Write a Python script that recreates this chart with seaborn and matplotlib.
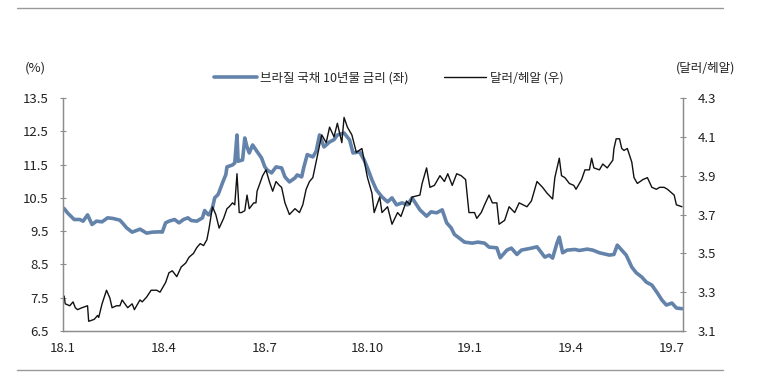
import pandas as pd
import seaborn as sns
import matplotlib.pyplot as plt
import matplotlib.lines as mlines

# 브라질 국채 10년물 금리 (%), 좌축
bond_dates = [
    "2018-01-02", "2018-01-05", "2018-01-11", "2018-01-16", "2018-01-19", "2018-01-23",
    "2018-01-27", "2018-01-31", "2018-02-05", "2018-02-10", "2018-02-15", "2018-02-21",
    "2018-02-24", "2018-02-27", "2018-03-04", "2018-03-11", "2018-03-17", "2018-03-22",
    "2018-03-29", "2018-03-31", "2018-04-03", "2018-04-06", "2018-04-11", "2018-04-15",
    "2018-04-19", "2018-04-23", "2018-04-26", "2018-05-01", "2018-05-06", "2018-05-08",
    "2018-05-11", "2018-05-12", "2018-05-15", "2018-05-17", "2018-05-20", "2018-05-21",
    "2018-05-24", "2018-05-27", "2018-05-28", "2018-06-02", "2018-06-04", "2018-06-06",
    "2018-06-07", "2018-06-11", "2018-06-13", "2018-06-15", "2018-06-17", "2018-06-20",
    "2018-06-23", "2018-06-28", "2018-07-01", "2018-07-03", "2018-07-07", "2018-07-11",
    "2018-07-16", "2018-07-19", "2018-07-23", "2018-07-28", "2018-07-30", "2018-08-03",
    "2018-08-05", "2018-08-08", "2018-08-13", "2018-08-16", "2018-08-19", "2018-08-23",
    "2018-08-28", "2018-09-01", "2018-09-04", "2018-09-10", "2018-09-15", "2018-09-18",
    "2018-09-24", "2018-09-28", "2018-10-01", "2018-10-05", "2018-10-09", "2018-10-14",
    "2018-10-19", "2018-10-23", "2018-10-27", "2018-11-01", "2018-11-06", "2018-11-10",
    "2018-11-17", "2018-11-23", "2018-11-27", "2018-12-02", "2018-12-07", "2018-12-11",
    "2018-12-15", "2018-12-18", "2018-12-22", "2018-12-27", "2019-01-03", "2019-01-08",
    "2019-01-14", "2019-01-18", "2019-01-25", "2019-01-28", "2019-02-03", "2019-02-07",
    "2019-02-12", "2019-02-16", "2019-02-25", "2019-03-02", "2019-03-09", "2019-03-13",
    "2019-03-16", "2019-03-20", "2019-03-22", "2019-03-25", "2019-03-29", "2019-04-05",
    "2019-04-09", "2019-04-16", "2019-04-21", "2019-04-27", "2019-05-06", "2019-05-10",
    "2019-05-13", "2019-05-17", "2019-05-21", "2019-05-26", "2019-05-30", "2019-06-04",
    "2019-06-08", "2019-06-13", "2019-06-18", "2019-06-22", "2019-06-26", "2019-07-01",
    "2019-07-05", "2019-07-10",
]
bond_values = [
    10.18, 10.05, 9.85, 9.85, 9.80, 9.99,
    9.70, 9.80, 9.78, 9.90, 9.88, 9.83,
    9.72, 9.60, 9.47, 9.56, 9.44, 9.47,
    9.48, 9.47, 9.75, 9.80, 9.85, 9.75,
    9.85, 9.90, 9.82, 9.80, 9.90, 10.12,
    10.00, 9.99, 10.20, 10.50, 10.60, 10.68,
    10.95, 11.20, 11.43, 11.49, 11.55, 12.39,
    11.60, 11.64, 12.30, 12.03, 11.85, 12.09,
    11.94, 11.70, 11.43, 11.34, 11.25, 11.43,
    11.40, 11.13, 10.98, 11.10, 11.19, 11.13,
    11.43, 11.80, 11.73, 11.90, 12.39, 12.03,
    12.18, 12.25, 12.39, 12.45, 12.24, 11.85,
    11.88, 11.64, 11.40, 11.04, 10.74, 10.53,
    10.38, 10.50, 10.29, 10.35, 10.29, 10.50,
    10.14, 9.95, 10.08, 10.05, 10.14, 9.75,
    9.60, 9.40, 9.30, 9.17, 9.14, 9.17,
    9.14, 9.02, 9.00, 8.70, 8.93, 8.99,
    8.80, 8.93, 8.99, 9.03, 8.72, 8.78,
    8.69, 9.15, 9.32, 8.85, 8.93, 8.95,
    8.92, 8.96, 8.93, 8.85, 8.78, 8.80,
    9.08, 8.93, 8.78, 8.42, 8.25, 8.12,
    7.97, 7.88, 7.64, 7.43, 7.28, 7.34,
    7.19, 7.17,
]

# 달러/헤알 환율, 우축
fx_dates = [
    "2018-01-02", "2018-01-03", "2018-01-07", "2018-01-10", "2018-01-12", "2018-01-14",
    "2018-01-18", "2018-01-23", "2018-01-24", "2018-01-29", "2018-02-01", "2018-02-02",
    "2018-02-05", "2018-02-09", "2018-02-12", "2018-02-14", "2018-02-18", "2018-02-21",
    "2018-02-23", "2018-02-28", "2018-03-04", "2018-03-06", "2018-03-11", "2018-03-13",
    "2018-03-17", "2018-03-21", "2018-03-26", "2018-03-29", "2018-03-31", "2018-04-03",
    "2018-04-06", "2018-04-09", "2018-04-13", "2018-04-17", "2018-04-21", "2018-04-24",
    "2018-04-28", "2018-05-01", "2018-05-04", "2018-05-07", "2018-05-10", "2018-05-12",
    "2018-05-15", "2018-05-18", "2018-05-21", "2018-05-25", "2018-05-28", "2018-05-30",
    "2018-06-02", "2018-06-04", "2018-06-06", "2018-06-08", "2018-06-10", "2018-06-13",
    "2018-06-15", "2018-06-17", "2018-06-21", "2018-06-23", "2018-06-24", "2018-06-29",
    "2018-07-02", "2018-07-05", "2018-07-08", "2018-07-11", "2018-07-14", "2018-07-16",
    "2018-07-19", "2018-07-23", "2018-07-28", "2018-08-01", "2018-08-04", "2018-08-07",
    "2018-08-10", "2018-08-13", "2018-08-17", "2018-08-21", "2018-08-25", "2018-08-28",
    "2018-09-01", "2018-09-04", "2018-09-08", "2018-09-10", "2018-09-13", "2018-09-17",
    "2018-09-21", "2018-09-26", "2018-09-28", "2018-10-01", "2018-10-05", "2018-10-07",
    "2018-10-12", "2018-10-14", "2018-10-19", "2018-10-23", "2018-10-28", "2018-10-31",
    "2018-11-05", "2018-11-08", "2018-11-10", "2018-11-17", "2018-11-19", "2018-11-23",
    "2018-11-26", "2018-11-30", "2018-12-05", "2018-12-09", "2018-12-12", "2018-12-16",
    "2018-12-20", "2018-12-24", "2018-12-28", "2018-12-31", "2019-01-05", "2019-01-07",
    "2019-01-11", "2019-01-14", "2019-01-18", "2019-01-21", "2019-01-25", "2019-01-27",
    "2019-02-01", "2019-02-05", "2019-02-10", "2019-02-14", "2019-02-21", "2019-02-25",
    "2019-03-02", "2019-03-07", "2019-03-11", "2019-03-16", "2019-03-18", "2019-03-22",
    "2019-03-24", "2019-03-27", "2019-03-31", "2019-04-04", "2019-04-06", "2019-04-11",
    "2019-04-14", "2019-04-18", "2019-04-20", "2019-04-22", "2019-04-27", "2019-04-30",
    "2019-05-04", "2019-05-09", "2019-05-10", "2019-05-12", "2019-05-15", "2019-05-17",
    "2019-05-19", "2019-05-22", "2019-05-26", "2019-05-28", "2019-05-31", "2019-06-05",
    "2019-06-09", "2019-06-13", "2019-06-17", "2019-06-20", "2019-06-24", "2019-06-27",
    "2019-07-01", "2019-07-03", "2019-07-05", "2019-07-10",
]
fx_values = [
    3.28, 3.24, 3.23, 3.25, 3.22, 3.21,
    3.22, 3.23, 3.15, 3.16, 3.18, 3.17,
    3.24, 3.31, 3.27, 3.22, 3.23, 3.23,
    3.26, 3.22, 3.24, 3.21, 3.26, 3.25,
    3.275, 3.31, 3.31, 3.30, 3.32, 3.35,
    3.40, 3.41, 3.38, 3.43, 3.45, 3.48,
    3.50, 3.53, 3.55, 3.54, 3.57, 3.63,
    3.74, 3.70, 3.63, 3.68, 3.73, 3.74,
    3.76, 3.75, 3.91, 3.71, 3.71, 3.72,
    3.80, 3.73, 3.76, 3.76, 3.82, 3.90,
    3.93, 3.87, 3.82, 3.87, 3.85, 3.84,
    3.76, 3.70, 3.73, 3.71, 3.75, 3.83,
    3.87, 3.89, 4.00, 4.11, 4.07, 4.15,
    4.10, 4.17, 4.07, 4.20, 4.15, 4.11,
    4.02, 4.04, 3.98, 3.89, 3.81, 3.71,
    3.79, 3.71, 3.74, 3.65, 3.71, 3.69,
    3.77, 3.75, 3.79, 3.80, 3.86, 3.94,
    3.84, 3.85, 3.90, 3.87, 3.91, 3.85,
    3.91, 3.90, 3.88, 3.71, 3.71, 3.68,
    3.71, 3.75, 3.80, 3.76, 3.76, 3.65,
    3.67, 3.74, 3.71, 3.76, 3.74, 3.77,
    3.87, 3.84, 3.81, 3.78, 3.89, 3.99,
    3.90, 3.89, 3.86, 3.85, 3.83, 3.88,
    3.93, 3.93, 3.99, 3.94, 3.93, 3.96,
    3.94, 3.98, 4.04, 4.09, 4.09, 4.04,
    4.03, 4.04, 3.97, 3.89, 3.86, 3.88,
    3.89, 3.84, 3.83, 3.84, 3.84, 3.83,
    3.81, 3.80, 3.75, 3.74,
]

tick_dates = ["2018-01-01", "2018-04-01", "2018-07-01", "2018-10-01",
              "2019-01-01", "2019-04-01", "2019-07-01"]
tick_labels = ["18.1", "18.4", "18.7", "18.10", "19.1", "19.4", "19.7"]
left_ticks = [6.5, 7.5, 8.5, 9.5, 10.5, 11.5, 12.5, 13.5]
right_ticks = [3.1, 3.3, 3.5, 3.7, 3.9, 4.1, 4.3]

bond_label = "브라질 국채 10년물 금리 (좌)"
fx_label = "달러/헤알 (우)"
blue = "#6383ab"

bond = pd.DataFrame({"date": pd.to_datetime(bond_dates), "value": bond_values})
fx = pd.DataFrame({"date": pd.to_datetime(fx_dates), "value": fx_values})

sns.set_style("white")
plt.rcParams["font.family"] = ["Noto Sans CJK KR", "DejaVu Sans"]

fig = plt.figure(figsize=(7.78, 3.77), dpi=100)
ax = fig.add_axes([0.081, 0.122, 0.797, 0.618])
ax2 = ax.twinx()

sns.lineplot(data=bond, x="date", y="value", ax=ax, color=blue, linewidth=2.6)
sns.lineplot(data=fx, x="date", y="value", ax=ax2, color="#111111", linewidth=1.0)

ax.set_xlim(pd.Timestamp("2018-01-01"), pd.Timestamp("2019-07-11"))
ax.set_ylim(6.5, 13.5)
ax2.set_ylim(3.1, 4.3)
ax.set_xticks(pd.to_datetime(tick_dates))
ax.set_xticklabels(tick_labels)
ax.set_yticks(left_ticks)
ax.set_yticklabels([f"{v:.1f}" for v in left_ticks])
ax2.set_yticks(right_ticks)
ax2.set_yticklabels([f"{v:.1f}" for v in right_ticks])
for a in (ax, ax2):
    a.set_xlabel("")
    a.set_ylabel("")
    a.spines["top"].set_visible(False)
    for s in ("left", "right", "bottom"):
        a.spines[s].set_color("#8c8c8c")
        a.spines[s].set_linewidth(0.9)

ax.tick_params(axis="x", direction="in", length=4, color="#8c8c8c",
               labelsize=9.5, pad=8, labelcolor="#222222")
ax.tick_params(axis="y", direction="inout", length=5, color="#8c8c8c",
               labelsize=9.5, pad=8, labelcolor="#222222")
ax2.tick_params(axis="y", direction="inout", length=5, color="#8c8c8c",
                labelsize=9.5, pad=8, labelcolor="#222222")

fig.text(0.046, 0.82, "(%)", fontsize=9.5, ha="center", va="center", color="#222222")
fig.text(0.907, 0.82, "(달러/헤알)", fontsize=9, ha="center", va="center", color="#222222")

handles = [mlines.Line2D([], [], color=blue, linewidth=2.6),
           mlines.Line2D([], [], color="#111111", linewidth=1.0)]
fig.legend(handles, [bond_label, fx_label], loc="center", bbox_to_anchor=(0.5, 0.793),
           ncol=2, frameon=False, fontsize=9, handlelength=3.4, handletextpad=0.3,
           columnspacing=2.8)

for yy in (0.979, 0.019):
    fig.add_artist(mlines.Line2D([0.022, 0.929], [yy, yy], color="#999999", linewidth=1.0))

fig.savefig("out.png", dpi=100)
